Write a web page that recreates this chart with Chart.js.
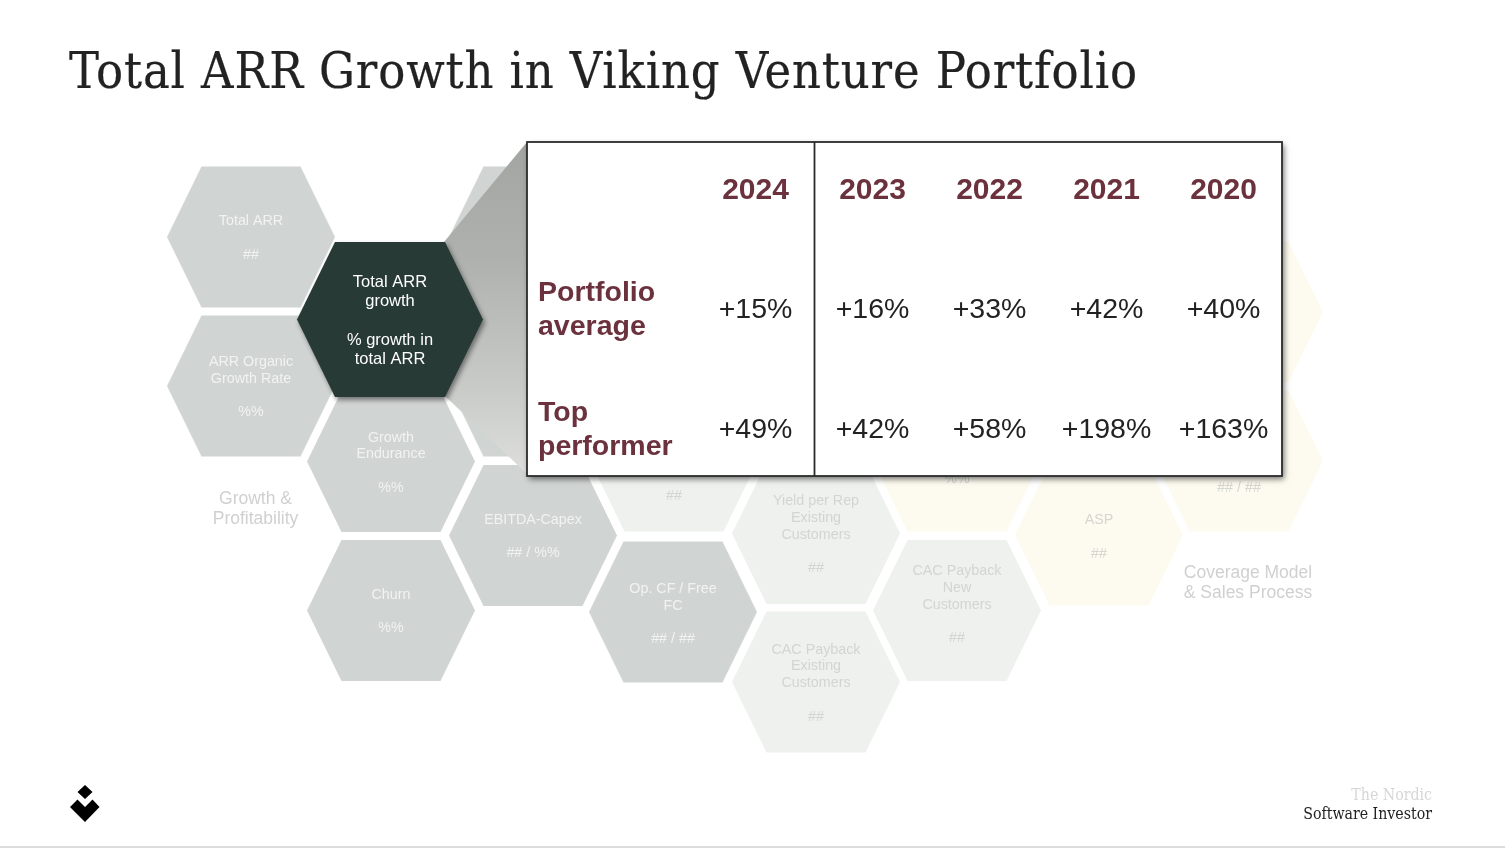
<!DOCTYPE html>
<html>
<head>
<meta charset="utf-8">
<title>Total ARR Growth in Viking Venture Portfolio</title>
<script src="https://cdn.jsdelivr.net/npm/chart.js@4"></script>
<style>
    html, body { margin: 0; padding: 0; background: #fff; overflow: hidden; }
    #page { position: relative; width: 1505px; height: 848px; overflow: hidden; }
    canvas { position: absolute; left: 0; top: 0; }
    h1 { position: absolute; left: 69px; top: 39px; margin: 0; font: 400 50px/64px "DejaVu Serif Condensed", "DejaVu Serif", serif; font-stretch: condensed; letter-spacing: 0.88px; -webkit-text-stroke: 0.2px #222; color: #222; white-space: nowrap; }
    .brand { position: absolute; right: 73px; font: 400 15.75px/20px "DejaVu Serif Condensed", "DejaVu Serif", serif; font-stretch: condensed; white-space: nowrap; }
    #rule { position: absolute; left: 0; right: 0; top: 846px; height: 2px; background: #dcdcdc; }
    #logo { position: absolute; left: 0; top: 0; }
</style>
</head>
<body>
<div id="page">
    <canvas id="hexChart" width="1505" height="848"></canvas>
    <canvas id="tableChart" width="1505" height="848"></canvas>
    <h1>Total ARR Growth in Viking Venture Portfolio</h1>
    <svg id="logo" width="120" height="848"><path d="M85 785l7.500 7-7.500 7-7.500-7zM70 807l7.500-7.500 7.500 7.500 7.500-7.500 7 7.500-14.500 15z" fill="#000"/></svg>
    <div class="brand" style="top:785px;color:#d6d6d6">The Nordic</div>
    <div class="brand" style="top:804px;color:#222">Software Investor</div>
    <div id="rule"></div>
</div>
<script>
    // table values
    const years = ['2024', '2023', '2022', '2021', '2020'];
    const rowLabels = ['Portfolio average', 'Top performer'];
    const portfolioAverage = [15, 16, 33, 42, 40];
    const topPerformer = [49, 42, 58, 198, 163];

    // hexagons behind the table: centre, label lines (empty = blank or hidden line), colour group
    const hexX = [251, 251, 391, 391, 533, 533, 533, 673, 674, 816, 816, 957, 957, 1099, 1239, 1239];
    const hexY = [237, 386, 461.5, 610.5, 237, 386, 535.5, 612, 461, 533.5, 682, 610.5, 461, 535, 461, 312];
    const hexLines = [
        ['Total ARR', '', '##'],
        ['ARR Organic', 'Growth Rate', '', '%%'],
        ['Growth', 'Endurance', '', '%%'],
        ['Churn', '', '%%'],
        [],
        [],
        ['EBITDA-Capex', '', '## / %%'],
        ['Op. CF / Free', 'FC', '', '## / ##'],
        ['', '', '', '', '##'],
        ['Yield per Rep', 'Existing', 'Customers', '', '##'],
        ['CAC Payback', 'Existing', 'Customers', '', '##'],
        ['CAC Payback', 'New', 'Customers', '', '##'],
        ['', '', '%%'],
        ['ASP', '', '##'],
        ['', '', '', '## / ##'],
        []
    ];
    const hexGroup = ['grey', 'grey', 'grey', 'grey', 'grey', 'grey', 'grey', 'grey', 'light', 'light', 'light', 'light', 'yellow', 'yellow', 'yellow', 'yellow'];
    // some labels do not sit on the hexagon's centre in the slide
    const hexTextShift = [0, 0, 0, 0, 0, 0, 0, 1, 0, 0, 0, -7, 0, 1, 1, 0];
    const activeHex = { x: 390, y: 319.5, lines: ['Total ARR', 'growth', '', '% growth in', 'total ARR'] };

    const groupColors = {
        grey: { fill: '#d0d4d2', text: '#f1f3f2' },
        light: { fill: '#eef1ed', text: '#d2d5d2' },
        yellow: { fill: '#fdfbef', text: '#d6d6d2' }
    };

    function hexImage(w, h, inset, fill, shadow) {
        const pad = 10;
        const c = document.createElement('canvas');
        c.width = w + pad * 2;
        c.height = h + pad * 2;
        const g = c.getContext('2d');
        if (shadow) {
            g.shadowColor = 'rgba(0, 0, 0, 0.45)';
            g.shadowBlur = 5;
            g.shadowOffsetX = 2;
            g.shadowOffsetY = 3;
        }
        g.fillStyle = fill;
        g.beginPath();
        g.moveTo(pad, pad + h / 2);
        g.lineTo(pad + inset, pad);
        g.lineTo(pad + w - inset, pad);
        g.lineTo(pad + w, pad + h / 2);
        g.lineTo(pad + w - inset, pad + h);
        g.lineTo(pad + inset, pad + h);
        g.closePath();
        g.fill();
        return c;
    }

    const hexImages = {
        grey: hexImage(168, 141, 34.5, groupColors.grey.fill),
        light: hexImage(168, 141, 34.5, groupColors.light.fill),
        yellow: hexImage(168, 141, 34.5, groupColors.yellow.fill)
    };

    function drawLines(ctx, x, y, lines, lineHeight) {
        const top = y - (lines.length - 1) * lineHeight / 2;
        lines.forEach((line, i) => ctx.fillText(line, x, top + i * lineHeight));
    }

    // grey funnel from the dark hexagon to the table, drawn just under the dark hexagon
    const funnelPlugin = {
        id: 'funnel',
        beforeDatasetDraw(chart, args) {
            if (args.index !== 0) return;
            const ctx = chart.ctx;
            const grad = ctx.createLinearGradient(0, 142, 0, 476);
            grad.addColorStop(0, '#a3a5a1');
            grad.addColorStop(0.35, '#aeb1ae');
            grad.addColorStop(0.7, '#c6c8c6');
            grad.addColorStop(1, '#dedfdd');
            ctx.save();
            ctx.fillStyle = grad;
            ctx.beginPath();
            ctx.moveTo(527, 142);
            ctx.lineTo(444, 242);
            ctx.lineTo(390, 320);
            ctx.lineTo(446, 397);
            ctx.lineTo(527, 474);
            ctx.closePath();
            ctx.fill();
            ctx.restore();
        }
    };

    const hexTextPlugin = {
        id: 'hexText',
        afterDatasetsDraw(chart) {
            const ctx = chart.ctx;
            const x = chart.scales.x;
            const y = chart.scales.y;
            ctx.save();
            ctx.textAlign = 'center';
            ctx.textBaseline = 'middle';
            ctx.font = '14.3px "Liberation Sans", sans-serif';
            hexLines.forEach((lines, i) => {
                ctx.fillStyle = groupColors[hexGroup[i]].text;
                drawLines(ctx, x.getPixelForValue(hexX[i]), y.getPixelForValue(hexY[i]) + 1.2 + hexTextShift[i], lines, 16.7);
            });
            ctx.fillStyle = '#ffffff';
            ctx.font = '16.5px "Liberation Sans", sans-serif';
            drawLines(ctx, x.getPixelForValue(activeHex.x), y.getPixelForValue(activeHex.y) + 1.3, activeHex.lines, 19.3);

            ctx.fillStyle = '#cfd0cf';
            ctx.font = '17.5px "Liberation Sans", sans-serif';
            drawLines(ctx, 255.5, 509, ['Growth &', 'Profitability'], 20);
            drawLines(ctx, 1248, 583, ['Coverage Model', '& Sales Process'], 20);
            ctx.restore();
        }
    };

    new Chart(document.getElementById('hexChart'), {
        type: 'scatter',
        data: {
            datasets: [
                {
                    data: [{ x: activeHex.x, y: activeHex.y }],
                    pointStyle: hexImage(186, 155, 38, '#283a35', true),
                    clip: false
                },
                {
                    data: hexX.map((x, i) => ({ x, y: hexY[i] })),
                    pointStyle: hexGroup.map(g => hexImages[g]),
                    clip: false
                }
            ]
        },
        options: {
            responsive: false,
            animation: false,
            events: [],
            layout: { padding: 0, autoPadding: false },
            plugins: { legend: { display: false }, tooltip: { enabled: false } },
            scales: {
                x: { display: false, min: 0, max: 1505 },
                y: { display: false, min: 0, max: 848, reverse: true }
            }
        },
        plugins: [funnelPlugin, hexTextPlugin]
    });

    // white table frame, the divider after the first year and the cell values
    const tablePlugin = {
        id: 'tableFrame',
        beforeDraw(chart) {
            const ctx = chart.ctx;
            const x = chart.scales.x;
            const right = chart.chartArea.right;
            ctx.save();
            ctx.shadowColor = 'rgba(0, 0, 0, 0.55)';
            ctx.shadowBlur = 6;
            ctx.shadowOffsetX = 2;
            ctx.shadowOffsetY = 3;
            ctx.fillStyle = '#ffffff';
            ctx.fillRect(527, 142, right - 527, 334);
            ctx.shadowColor = 'transparent';
            ctx.strokeStyle = '#2b2b2b';
            ctx.lineWidth = 1.8;
            ctx.strokeRect(527, 142, right - 527, 334);
            const divider = Math.round((x.getPixelForValue(0) + x.getPixelForValue(1)) / 2) + 0.5;
            ctx.beginPath();
            ctx.moveTo(divider, 142);
            ctx.lineTo(divider, 476);
            ctx.stroke();
            ctx.restore();
        },
        afterDatasetsDraw(chart) {
            const ctx = chart.ctx;
            ctx.save();
            ctx.fillStyle = '#222222';
            ctx.font = '28.5px "Liberation Sans", sans-serif';
            ctx.textAlign = 'center';
            ctx.textBaseline = 'middle';
            chart.data.datasets.forEach((ds, d) => {
                chart.getDatasetMeta(d).data.forEach((pt, i) => {
                    ctx.fillText('+' + ds.data[i].v + '%', pt.x, pt.y + 2);
                });
            });
            ctx.restore();
        }
    };

    function rowData(label, values) {
        return values.map((v, i) => ({ x: years[i], y: label, v }));
    }

    const labelColor = '#6b323e';

    new Chart(document.getElementById('tableChart'), {
        type: 'line',
        data: {
            labels: years,
            datasets: [
                { label: rowLabels[0], data: rowData(rowLabels[0], portfolioAverage), showLine: false, pointRadius: 0 },
                { label: rowLabels[1], data: rowData(rowLabels[1], topPerformer), showLine: false, pointRadius: 0 }
            ]
        },
        options: {
            responsive: false,
            animation: false,
            events: [],
            layout: { padding: { left: 538, right: 223, top: 100, bottom: 360 }, autoPadding: false },
            plugins: { legend: { display: false }, tooltip: { enabled: false } },
            scales: {
                x: {
                    type: 'category',
                    position: 'top',
                    labels: years,
                    offset: true,
                    grid: { display: false, drawTicks: false },
                    border: { display: false },
                    ticks: {
                        color: labelColor,
                        font: { family: '"Liberation Sans", sans-serif', size: 30, weight: 'bold' },
                        padding: 39,
                        maxRotation: 0,
                        autoSkip: false
                    },
                    afterFit: scale => { scale.height = 148; }
                },
                y: {
                    type: 'category',
                    labels: rowLabels,
                    offset: true,
                    grid: { display: false, drawTicks: false },
                    border: { display: false },
                    ticks: {
                        color: labelColor,
                        font: { family: '"Liberation Sans", sans-serif', size: 28.5, weight: 'bold', lineHeight: 1.18 },
                        crossAlign: 'far',
                        padding: 0,
                        labelOffset: 2,
                        autoSkip: false,
                        callback: (value, i) => rowLabels[i].split(' ')
                    },
                    afterFit: scale => { scale.width = 159; }
                }
            }
        },
        plugins: [tablePlugin]
    });
</script>
</body>
</html>
